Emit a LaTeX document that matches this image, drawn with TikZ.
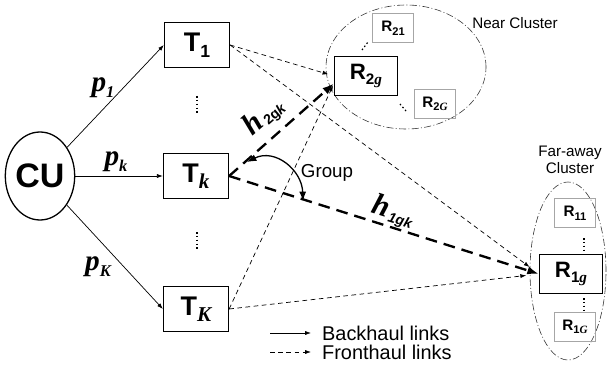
\documentclass[tikz,border=0pt]{standalone}
\usepackage{fontspec}
\setmainfont{Liberation Sans}
\newfontfamily\serf{Liberation Serif}
\usetikzlibrary{arrows.meta,calc,shapes.geometric}
\newcommand\lo[1]{\raisebox{-0.45ex}{#1}}
\begin{document}
\begin{tikzpicture}[x=0.03cm,y=-0.03cm,
  >={Latex[length=5pt,width=3.5pt]},
  tbox/.style={draw,line width=1.1pt,minimum width=1.95cm,minimum height=1.35cm,inner sep=0pt,font=\bfseries\fontsize{23}{23}\selectfont},
  rbig/.style={draw,line width=1.1pt,minimum width=1.88cm,minimum height=1.16cm,inner sep=0pt,font=\bfseries\fontsize{19}{19}\selectfont},
  rsmall/.style={draw=gray!70,line width=0.6pt,minimum width=1.22cm,minimum height=0.86cm,inner sep=0pt,font=\bfseries\fontsize{13}{13}\selectfont},
  cluster/.style={draw=black!80,ellipse,line width=0.5pt,dash pattern=on 6pt off 2pt on 0.8pt off 2pt,inner sep=0pt},
  back/.style={->,line width=0.6pt},
  fronts/.style={->,line width=0.6pt,dash pattern=on 4pt off 3pt},
  frontb/.style={-{Latex[length=10pt,width=7pt]},line width=2pt,dash pattern=on 10pt off 6pt},
  dots/.style={line width=1pt,dash pattern=on 1.3pt off 2pt},
  plabel/.style={font=\serf\bfseries\itshape\fontsize{25}{25}\selectfont},
  hlabel/.style={inner sep=1pt}
]
\useasboundingbox (0,0) rectangle (611,366);

% clusters
\node[cluster,minimum width=4.8cm,minimum height=3.72cm] (near) at (406,67) {};
\node[cluster,minimum width=2.28cm,minimum height=5.34cm] (far) at (568,271) {};
\node[font=\fontsize{13}{13}\selectfont] (nearlbl) at (515,23) {Near Cluster};
\node[align=center,font=\fontsize{13}{15}\selectfont] (farlbl) at (570,160) {Far-away\\Cluster};

% nodes
\node[ellipse,draw,line width=1.1pt,minimum width=1.98cm,minimum height=2.64cm,inner sep=0pt,font=\bfseries\fontsize{29}{29}\selectfont] (cu) at (40,176) {CU};
\node[tbox] (t1) at (197,45) {T\lo{\fontsize{15}{15}\selectfont 1}};
\node[tbox] (tk) at (196,176) {T\lo{\serf\itshape\fontsize{18}{18}\selectfont k}};
\node[tbox] (tK) at (196,309) {T\lo{\serf\itshape\fontsize{18}{18}\selectfont K}};
\node[rbig] (r2g) at (366,76) {R\lo{\fontsize{13}{13}\selectfont 2{\serf\itshape g}}};
\node[rsmall] (r21) at (393,28) {R\lo{\fontsize{9.5}{9.5}\selectfont 21}};
\node[rsmall] (r2G) at (435,104) {R\lo{\fontsize{9.5}{9.5}\selectfont 2{\serf\itshape G}}};
\node[rbig] (r1g) at (571,274) {R\lo{\fontsize{13}{13}\selectfont 1{\serf\itshape g}}};
\node[rsmall] (r11) at (575,213) {R\lo{\fontsize{9.5}{9.5}\selectfont 11}};
\node[rsmall] (r1G) at (575,327) {R\lo{\fontsize{9.5}{9.5}\selectfont 1{\serf\itshape G}}};

% vertical dots
\draw[dots] (197,96) -- (197,113);
\draw[dots] (197,232) -- (197,249);
\draw[dots] (584,238) -- (584,250);
\draw[dots] (584,298) -- (584,310);
\draw[dots] (362,50) -- (368,42);
\draw[dots] (400,104) -- (406,111);

% backhaul
\draw[back] (cu) -- (t1.west);
\draw[back] (cu) -- (tk.west);
\draw[back] (cu) -- (tK.west);

% fronthaul thin
\draw[fronts,shorten >=5pt] (t1.east) -- (r2g.west);
\draw[fronts,shorten >=10pt] (t1.east) -- (r1g.west);
\draw[fronts,shorten >=2pt] (tK.east) -- (r2g.193);
\draw[fronts,shorten >=11pt] (tK.east) -- (r1g.west);

% fronthaul thick
\draw[frontb] (tk.east) -- (r2g.193);
\draw[frontb] (tk.east) -- (r1g.west);

% group arc
\coordinate (ga) at (247,162);
\coordinate (gb) at (303,201);
\draw[{Latex[length=8pt,width=6pt]}-{Latex[length=8pt,width=6pt]},line width=1.1pt] (ga) .. controls (275,148) and (302,170) .. (gb);
\node[font=\fontsize{16}{16}\selectfont] (grp) at (327,173) {Group};

% labels
\node[plabel] (p1) at (103,88) {p\lo{\fontsize{14}{14}\selectfont 1}};
\node[plabel] (pk) at (116,162) {p\lo{\fontsize{14}{14}\selectfont k}};
\node[plabel] (pK) at (98,267) {p\lo{\fontsize{14}{14}\selectfont K}};
\node[hlabel,rotate=41] (h2) at (264,116) {{\serf\bfseries\itshape\fontsize{26}{26}\selectfont h}\kern1.5pt\lo{\bfseries\fontsize{12}{12}\selectfont 2g\textit{k}}};
\node[hlabel,rotate=-17.6] (h1) at (393,212) {{\serf\bfseries\itshape\fontsize{26}{26}\selectfont h}\kern1.5pt\lo{\bfseries\itshape\fontsize{12}{12}\selectfont 1gk}};

% legend
\coordinate (la) at (270,333);
\coordinate (lb) at (311,333);
\draw[back] (la) -- (lb);
\node[anchor=west,font=\fontsize{17}{17}\selectfont] (lt1) at (318,333) {Backhaul links};
\coordinate (lc) at (270,352);
\coordinate (ld) at (311,352);
\draw[fronts] (lc) -- (ld);
\node[anchor=west,font=\fontsize{17}{17}\selectfont] (lt2) at (318,352) {Fronthaul links};
\end{tikzpicture}
\end{document}
